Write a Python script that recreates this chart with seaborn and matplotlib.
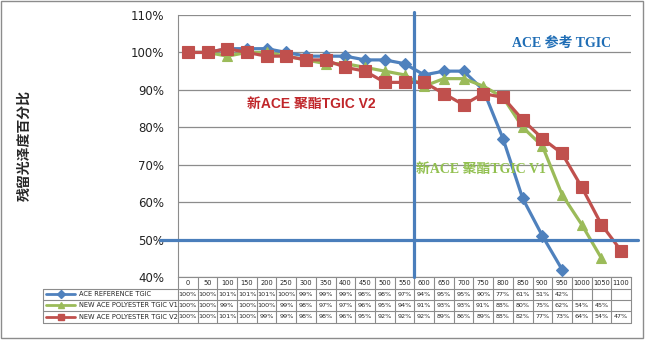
import numpy as np
import pandas as pd
import matplotlib
matplotlib.use("Agg")
import matplotlib.pyplot as plt
import matplotlib.transforms as mtransforms
from matplotlib.lines import Line2D
from matplotlib.patches import Rectangle
import seaborn as sns

categories = [0, 50, 100, 150, 200, 250, 300, 350, 400, 450, 500, 550,
              600, 650, 700, 750, 800, 850, 900, 950, 1000, 1050, 1100]
series_names = ["ACE REFERENCE TGIC", "NEW ACE POLYESTER TGIC V1", "NEW ACE POLYESTER TGIC V2"]
ref_vals = [100, 100, 101, 101, 101, 100, 99, 99, 99, 98, 98, 97, 94, 95, 95, 90, 77, 61, 51, 42]
v1_vals = [100, 100, 99, 100, 100, 99, 98, 97, 97, 96, 95, 94, 91, 93, 93, 91, 88, 80, 75, 62, 54, 45]
v2_vals = [100, 100, 101, 100, 99, 99, 98, 98, 96, 95, 92, 92, 92, 89, 86, 89, 88, 82, 77, 73, 64, 54, 47]
y_ticks = [40, 50, 60, 70, 80, 90, 100, 110]
y_label = "残留光泽度百分比"
ann_ref = "ACE 参考 TGIC"
ann_v1 = "新ACE 聚酯TGIC V1"
ann_v2 = "新ACE 聚酯TGIC V2"

colors = ["#4f81bd", "#9bbb59", "#c0504d"]
all_vals = [ref_vals, v1_vals, v2_vals]

rows = []
for name, vals in zip(series_names, all_vals):
    for i, v in enumerate(vals):
        rows.append({"idx": i, "val": v, "series": name})
df = pd.DataFrame(rows)

sns.set_style("white")
plt.rcParams["font.family"] = ["DejaVu Sans", "Noto Sans CJK SC"]

W, H = 646, 341
fig = plt.figure(figsize=(W / 100, H / 100), dpi=100)
fig.patch.set_facecolor("white")

def fx(x):
    return x / W

def fy(y):
    return 1 - y / H

ax = fig.add_axes([fx(178), fy(277), fx(631) - fx(178), (277 - 15) / H])

sns.lineplot(data=df, x="idx", y="val", hue="series", style="series",
             hue_order=series_names, style_order=series_names,
             palette=colors, markers=["D", "^", "s"], dashes=False,
             linewidth=2.3, markersize=7, markeredgewidth=0.8,
             legend=False, ax=ax, zorder=3)
for ln, c in zip(ax.get_lines(), colors):
    ln.set_markeredgecolor(c)
# red squares slightly larger
lines = ax.get_lines()
if len(lines) >= 3:
    lines[2].set_markersize(8)
    lines[0].set_markersize(6.5)

ax.set_xlim(-0.5, len(categories) - 0.5)
ax.set_ylim(40, 110)
ax.set_yticks(y_ticks)
ax.set_yticklabels([f"{t}%" for t in y_ticks], fontsize=8.5, color="#222222")
ax.set_xticks([])
ax.set_xlabel("")
ax.set_ylabel("")
ax.grid(axis="y", color="#8c8c8c", linewidth=0.9)
ax.set_axisbelow(True)
for s in ["top", "right"]:
    ax.spines[s].set_visible(False)
ax.spines["left"].set_color("#8c8c8c")
ax.spines["bottom"].set_color("#8c8c8c")
ax.tick_params(axis="y", length=0, pad=10)

# reference lines
ax.plot([11.5, 11.5], [fy(12), fy(277)], color="#4a7ebb", linewidth=2.3,
        transform=mtransforms.blended_transform_factory(ax.transData, fig.transFigure),
        clip_on=False, zorder=4)
ax.plot([fx(160), fx(638)], [50, 50], color="#4a7ebb", linewidth=2.3,
        transform=mtransforms.blended_transform_factory(fig.transFigure, ax.transData),
        clip_on=False, zorder=4)

# annotations
fig.text(fx(512), fy(43), ann_ref, color="#1f6db5", fontsize=10, fontweight="bold",
         family=["Liberation Serif", "Noto Sans CJK SC"], va="center", ha="left")
fig.text(fx(247), fy(104), ann_v2, color="#c0262a", fontsize=10, fontweight="bold",
         family=["Liberation Sans", "Noto Sans CJK SC"], va="center", ha="left")
fig.text(fx(416), fy(169), ann_v1, color="#92c050", fontsize=10, fontweight="bold",
         family=["Liberation Serif", "Noto Sans CJK SC"], va="center", ha="left")

# y label
fig.text(fx(25), fy(145), y_label, rotation=90, fontsize=10, fontweight="bold",
         family=["Noto Sans CJK SC", "DejaVu Sans"], va="center", ha="center")

# data table
bt = mtransforms.blended_transform_factory(ax.transData, fig.transFigure)
grid_c = "#8c8c8c"
row_y = [277, 289, 299.5, 311, 323]
n = len(categories)
# header verticals
for i in range(n + 1):
    ax.plot([i - 0.5, i - 0.5], [fy(277), fy(row_y[-1])], color=grid_c, lw=0.8,
            transform=bt, clip_on=False)
for yy in row_y[1:]:
    fig.add_artist(Line2D([fx(43), fx(631)], [fy(yy), fy(yy)], color=grid_c, lw=0.8))
fig.add_artist(Line2D([fx(43), fx(43)], [fy(row_y[1]), fy(row_y[-1])], color=grid_c, lw=0.8))
for i, c in enumerate(categories):
    ax.text(i, fy((row_y[0] + row_y[1]) / 2), str(c), transform=bt, fontsize=4.8,
            ha="center", va="center", clip_on=False)
for r, (name, vals, col, mk) in enumerate(zip(series_names, all_vals, colors, ["D", "^", "s"])):
    yc = (row_y[r + 1] + row_y[r + 2]) / 2
    for i, v in enumerate(vals):
        ax.text(i, fy(yc), f"{v}%", transform=bt, fontsize=4.6,
                ha="center", va="center", clip_on=False)
    fig.add_artist(Line2D([fx(46), fx(75)], [fy(yc), fy(yc)], color=col, lw=2.0,
                          marker=None))
    fig.add_artist(Line2D([fx(60.5)], [fy(yc)], color=col, marker=mk, markersize=4,
                          markeredgecolor=col, lw=0))
    fig.text(fx(79), fy(yc), name, fontsize=4.8, ha="left", va="center")

# outer frame
fig.add_artist(Rectangle((fx(1), fy(338)), fx(643) - fx(1), fy(1) - fy(338),
                         transform=fig.transFigure, fill=False, edgecolor="#8c8c8c", lw=1))

fig.savefig("out.png", dpi=100, facecolor="white")
